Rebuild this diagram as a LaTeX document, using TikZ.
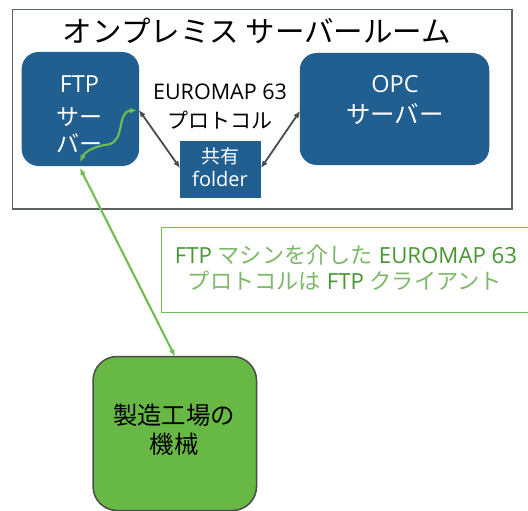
\documentclass[tikz,border=0pt]{standalone}
\usepackage{fontspec}
\setmainfont{Open Sans}
\newfontfamily\jp{Noto Sans CJK JP}
\usetikzlibrary{arrows.meta}
\definecolor{bluebox}{RGB}{33,95,145}
\definecolor{greenbox}{RGB}{103,184,69}
\definecolor{greenline}{RGB}{112,190,80}
\definecolor{frameline}{RGB}{90,98,98}
\definecolor{darkarrow}{RGB}{75,75,75}
\definecolor{greentext}{RGB}{72,150,50}
\definecolor{greenkana}{RGB}{125,185,105}
\tikzset{
  every node/.style={inner sep=0pt,align=center},
  serverbox/.style={rounded corners=17pt,fill=bluebox},
  lab/.style={text=white},
  darkarr/.style={{Latex[length=7pt,width=6pt]}-{Latex[length=7pt,width=6pt]},draw=darkarrow,line width=1.8pt},
  greenarr/.style={{Latex[length=7pt,width=6pt]}-{Latex[length=7pt,width=6pt]},draw=greenline,line width=2.1pt},
}
\begin{document}
\begin{tikzpicture}[x=1pt,y=-1pt]
\useasboundingbox (0,0) rectangle (528,511);
\clip (0,0) rectangle (528,511);
\fill[white] (0,0) rectangle (528,511);
% frame
\node[draw=frameline,line width=1.8pt,minimum width=499.5pt,minimum height=199.5pt] (frame) at (262.3,109.3) {};
\node (title) at (257,31) {\fontsize{29.5}{32}\selectfont\jp オンプレミス サーバールーム};
% servers
\node[serverbox,minimum width=117.5pt,minimum height=114pt] (ftp) at (80.4,109) {};
\node[serverbox,minimum width=189.5pt,minimum height=112pt] (opc) at (394.5,109) {};
\node[fill=bluebox,minimum width=81pt,minimum height=57pt] (share) at (220.5,169.5) {};
\node[lab] (ftplab) at (79.5,84) {\fontsize{23.5}{26}\selectfont FTP};
\node[lab] (sa) at (79.5,117) {\fontsize{23}{26}\selectfont\jp サー};
\node[lab] (ba) at (79.5,143) {\fontsize{23}{26}\selectfont\jp バー};
\node[lab] (opclab) at (395,84) {\fontsize{23.5}{26}\selectfont OPC};
\node[lab] (opcsv) at (395,114) {\fontsize{24.5}{26}\selectfont\jp サーバー};
\node[lab] (kyo) at (220,156) {\fontsize{19}{22}\selectfont\jp 共有};
\node[lab] (fold) at (220,179) {\fontsize{20}{24}\selectfont folder};
\node (euro) at (220,92) {\fontsize{21.5}{24}\selectfont EUROMAP 63};
\node (proto) at (220,120) {\fontsize{21}{24}\selectfont\jp プロトコル};
% note
\node[draw=greenline,line width=1pt,minimum width=380pt,minimum height=85pt] (note) at (351,269.5) {};
\node[text=greentext] (note1) at (346,255) {\fontsize{22.2}{24}\selectfont FTP {\color{greenkana}\jp マシンを介した} EUROMAP 63};
\node[text=greentext] (note2) at (345,281) {\fontsize{22.2}{24}\selectfont {\color{greenkana}\jp プロトコルは} FTP {\color{greenkana}\jp クライアント}};
% factory
\node[draw=darkarrow,line width=1.5pt,fill=greenbox,rounded corners=24pt,minimum width=163.5pt,minimum height=154pt] (plant) at (174.8,433.5) {};
\node (p1) at (174,415) {\fontsize{24.4}{28}\selectfont\jp 製造工場の};
\node (p2) at (174,444) {\fontsize{24.4}{28}\selectfont\jp 機械};
% connectors
\coordinate (ftpE) at (139,110);
\coordinate (shareW) at (180,168);
\coordinate (shareE) at (261,168);
\coordinate (opcW) at (300,111);
\coordinate (ftpS) at (80,168);
\coordinate (ftpIn) at (80,162);
\coordinate (plantN) at (175,356.5);
\draw[darkarr] (ftpE) -- (shareW);
\draw[darkarr] (shareE) -- (opcW);
\draw[greenarr] (ftpS) -- (plantN);
\draw[greenarr] (ftpIn) .. controls (86,150) and (97,146) .. (108,144.5) .. controls (126,141) and (116,112) .. (137,110);
\end{tikzpicture}
\end{document}
